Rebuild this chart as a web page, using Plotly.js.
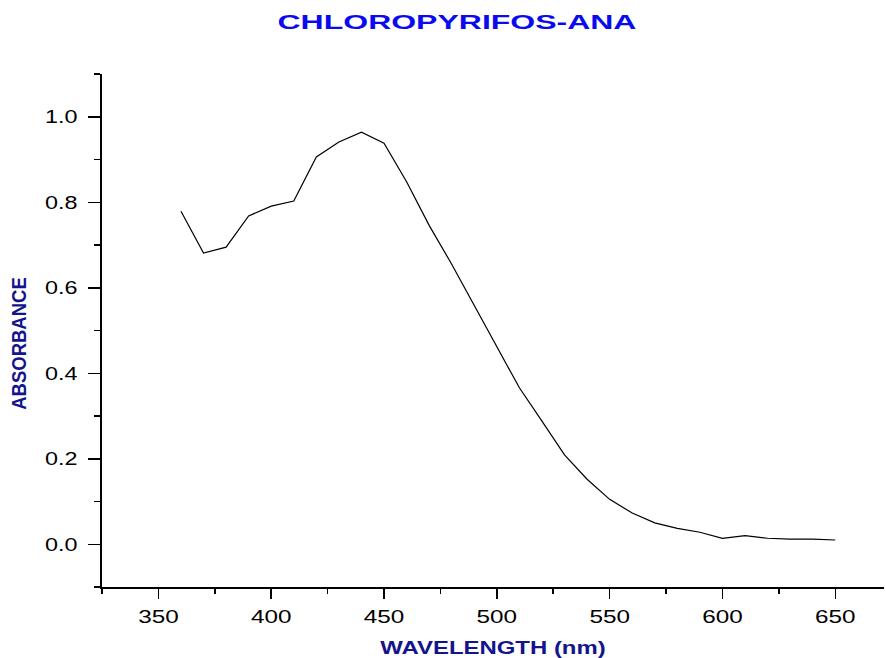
<!DOCTYPE html>
<html>
<head>
<meta charset="utf-8">
<script src="https://cdn.plot.ly/plotly-3.0.1.min.js"></script>
<style>html,body{margin:0;padding:0;background:#fff;overflow:hidden}</style>
</head>
<body>
<div id="chart" style="width:886px;height:658px"></div>
<script>
const wavelength = [360,370,380,390,400,410,420,430,440,450,460,470,480,490,500,510,520,530,540,550,560,570,580,590,600,610,620,630,640,650];
const absorbance = [0.779,0.681,0.695,0.768,0.791,0.803,0.906,0.941,0.964,0.938,0.848,0.746,0.655,0.558,0.462,0.366,0.288,0.209,0.152,0.105,0.073,0.050,0.037,0.028,0.014,0.020,0.014,0.012,0.012,0.010];
const chartTitle = "CHLOROPYRIFOS-ANA";
const xTitle = "WAVELENGTH (nm)";
const yTitle = "ABSORBANCE";

const FONT = 'Liberation Sans, Arial, sans-serif';
const trace = {
  x: wavelength, y: absorbance, type: 'scatter', mode: 'lines',
  line: {color: '#000000', width: 1.2}, hoverinfo: 'skip'
};
const layout = {
  width: 886, height: 658,
  margin: {l: 102, r: 2, t: 74, b: 71},
  paper_bgcolor: '#ffffff', plot_bgcolor: '#ffffff',
  showlegend: false,
  font: {family: FONT, color: '#000'},
  title: {text: '<b>' + chartTitle + '</b>', x: 457/886, xanchor: 'center', y: 1 - 22/658, yanchor: 'middle',
          font: {size: 20, color: '#0a0af0', family: FONT}},
  xaxis: {
    range: [325, 671.6], showgrid: false, zeroline: false,
    showline: true, linecolor: '#000', linewidth: 2,
    ticks: 'outside', ticklen: 10, tickwidth: 1.5, tickcolor: '#000',
    tick0: 350, dtick: 50, ticklabelstandoff: 2,
    minor: {ticks: 'outside', ticklen: 5, tickwidth: 1.5, tickcolor: '#000', tick0: 325, dtick: 25},
    tickfont: {size: 18, color: '#000', family: FONT},
    title: {text: '<b>' + xTitle + '</b>', standoff: 20, font: {size: 18, color: '#14148c', family: FONT}}
  },
  yaxis: {
    range: [-0.1, 1.1], showgrid: false, zeroline: false,
    showline: true, linecolor: '#000', linewidth: 2,
    ticks: 'outside', ticklen: 12, tickwidth: 1.5, tickcolor: '#000',
    tick0: 0, dtick: 0.2, tickformat: '.1f', ticklabelstandoff: 7,
    minor: {ticks: 'outside', ticklen: 6, tickwidth: 1.5, tickcolor: '#000', tick0: 0.1, dtick: 0.2},
    tickfont: {size: 18, color: '#000', family: FONT},
    title: {text: '<b>' + yTitle + '</b>', standoff: 22, font: {size: 18.5, color: '#14148c', family: FONT}}
  }
};

// The reference image is horizontally stretched; reproduce by scaling text glyphs in x.
function stretchText(gd) {
  function apply(sel, sx, anchor, rotated, shiftY) {
    gd.querySelectorAll(sel).forEach(el => {
      const bb = el.getBBox();
      const prev = el.getAttribute('transform') || '';
      const pre = shiftY ? `translate(0,${shiftY}) ` : '';
      if (rotated) {
        const cy = bb.y + bb.height / 2;
        el.setAttribute('transform', pre + prev + ` translate(0,${cy}) scale(1,${sx}) translate(0,${-cy})`);
      } else {
        let ax = bb.x + bb.width / 2;
        if (anchor === 'end') ax = bb.x + bb.width;
        el.setAttribute('transform', pre + prev + ` translate(${ax},0) scale(${sx},1) translate(${-ax},0)`);
      }
    });
  }
  apply('.gtitle', 1.6, 'middle', false, 0);
  apply('.xtick text', 1.35, 'middle', false, 0);
  apply('.ytick text', 1.3, 'end', false, 0);
  apply('.g-xtitle text', 1.33, 'middle', false, 0);
  apply('.g-ytitle text', 1.1, 'middle', true, 13);
}

Plotly.newPlot('chart', [trace], layout, {staticPlot: true, displayModeBar: false})
  .then(gd => stretchText(gd));
</script>
</body>
</html>
